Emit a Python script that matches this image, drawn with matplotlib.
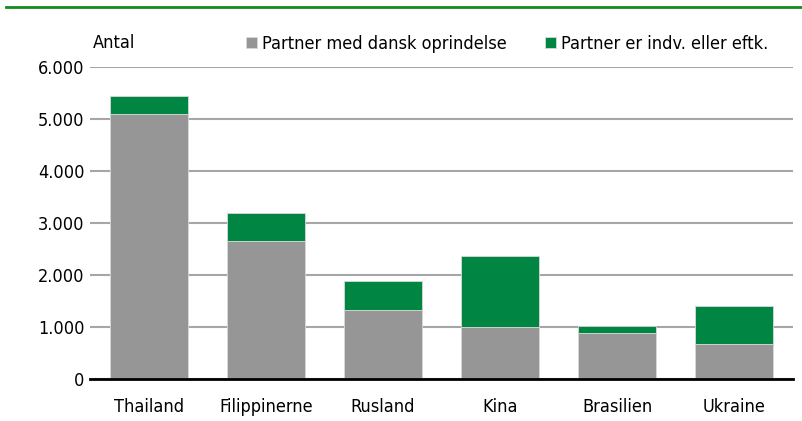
import matplotlib.pyplot as plt
import numpy as np

# data
countries = ['Thailand', 'Filippinerne', 'Rusland', 'Kina', 'Brasilien', 'Ukraine']
dansk = [5100, 2655, 1330, 1000, 885, 680]
indv = [350, 530, 560, 1365, 130, 725]
yticks = [0, 1000, 2000, 3000, 4000, 5000, 6000]
ytick_labels = ['0', '1.000', '2.000', '3.000', '4.000', '5.000', '6.000']

gray = '#969696'
green = '#008542'

plt.rcParams['font.family'] = ['DejaVu Sans']
plt.rcParams['font.stretch'] = 'condensed'

fig = plt.figure(figsize=(8.02, 4.21), dpi=100)
ax = fig.add_axes([90 / 802, 1 - 379 / 421, 703 / 802, 312 / 421])

x = np.arange(len(countries))
ax.bar(x, dansk, width=0.667, color=gray, edgecolor='#d9d9d9', linewidth=0.6,
       label='Partner med dansk oprindelse', zorder=3)
ax.bar(x, indv, bottom=dansk, width=0.667, color=green, edgecolor='#d9d9d9',
       linewidth=0.6, label='Partner er indv. eller eftk.', zorder=3)

ax.set_xlim(-0.5, len(countries) - 0.5)
ax.set_ylim(0, 6000)
ax.set_yticks(yticks)
ax.set_yticklabels(ytick_labels)
ax.set_xticks(x)
ax.set_xticklabels(countries)
ax.tick_params(axis='both', length=0, labelsize=13, colors='black')
ax.tick_params(axis='y', pad=4)
ax.tick_params(axis='x', pad=14)

ax.grid(axis='y', color='#a6a6a6', linewidth=1.5, zorder=0)
ax.set_axisbelow(True)
for s in ['left', 'right', 'top']:
    ax.spines[s].set_visible(False)
ax.spines['bottom'].set_linewidth(2)
ax.spines['bottom'].set_color('black')
ax.spines['bottom'].set_zorder(4)

fig.text(93 / 802, 1 - 43 / 421, 'Antal', fontsize=13, va='center', ha='left')
ax.legend(loc='lower left', bbox_to_anchor=(246 / 802, 1 - 53 / 421),
          bbox_transform=fig.transFigure, ncol=2, frameon=False, fontsize=13,
          handlelength=0.6, handleheight=0.6, handletextpad=0.3,
          columnspacing=2.1, borderaxespad=0, borderpad=0)

# green rule across the top
fig.add_artist(plt.Line2D([6 / 802, 1], [1 - 7 / 421, 1 - 7 / 421],
                          color='#168a1f', linewidth=2, transform=fig.transFigure))

fig.savefig('out.png', dpi=100)
